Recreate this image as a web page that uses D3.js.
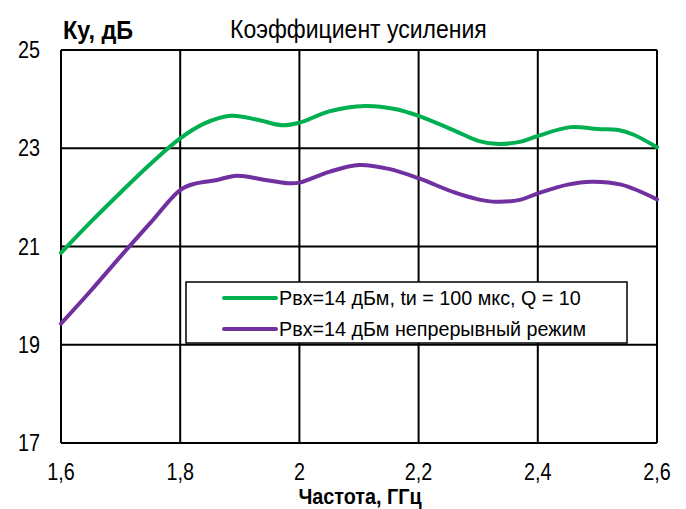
<!DOCTYPE html>
<html><head><meta charset="utf-8">
<script src="https://cdn.jsdelivr.net/npm/d3@7"></script>
<style>body{margin:0;background:#fff}svg{display:block}text{font-family:"Liberation Sans Narrow","Arial Narrow","Liberation Sans",Arial,sans-serif;fill:#000}</style>
</head><body><svg id="c" width="686" height="509"></svg>
<script>
const xTicks = [1.6, 1.8, 2.0, 2.2, 2.4, 2.6];
const xTickLabels = ["1,6", "1,8", "2", "2,2", "2,4", "2,6"];
const yTicks = [17, 19, 21, 23, 25];
const freqPulse = [1.6,1.65,1.7,1.75,1.8,1.84,1.885,1.93,1.97,2.0,2.05,2.11,2.16,2.2,2.26,2.3,2.33,2.37,2.4,2.455,2.5,2.535,2.56,2.6];
const gainPulse = [20.87,21.5,22.1,22.68,23.2,23.5,23.66,23.58,23.47,23.52,23.75,23.86,23.8,23.66,23.36,23.15,23.09,23.13,23.25,23.43,23.39,23.37,23.28,23.02];
const freqCW = [1.6,1.65,1.7,1.75,1.8,1.825,1.86,1.895,1.94,1.98,2.0,2.05,2.1,2.15,2.2,2.26,2.3,2.33,2.37,2.4,2.45,2.49,2.54,2.6];
const gainCW = [19.43,20.1,20.8,21.48,22.15,22.28,22.35,22.44,22.36,22.29,22.3,22.52,22.66,22.58,22.39,22.1,21.96,21.91,21.95,22.08,22.26,22.32,22.26,21.96];
const seriesNames = ["Рвх=14 дБм, tи = 100 мкс, Q = 10", "Рвх=14 дБм непрерывный режим"];
const colors = ["#00B050", "#7030A0"];

const svg = d3.select("#c");
const L = 61, R = 657, T = 50, B = 443;
const x = d3.scaleLinear().domain([1.6, 2.6]).range([L, R]);
const y = d3.scaleLinear().domain([17, 25]).range([B, T]);

function label(parent, px, py, txt, size, opts = {}) {
  const t = parent.append("text")
    .attr("transform", `translate(${px},${py}) scale(${opts.sx || 1},1)`)
    .attr("font-size", size)
    .attr("text-anchor", opts.anchor || "start")
    .text(txt);
  if (opts.bold) t.attr("font-weight", "bold");
  return t;
}

const g = svg.append("g");
g.selectAll(".vg").data(xTicks).enter().append("line")
  .attr("x1", d => x(d)).attr("x2", d => x(d)).attr("y1", T).attr("y2", B)
  .attr("stroke", "#000").attr("stroke-width", 2);
g.selectAll(".hg").data(yTicks).enter().append("line")
  .attr("x1", L).attr("x2", R).attr("y1", d => y(d)).attr("y2", d => y(d))
  .attr("stroke", "#000").attr("stroke-width", 2);

// tick labels
const xl = svg.append("g");
xTicks.forEach((d, i) => label(xl, x(d), B + 37, xTickLabels[i], 23, {anchor: "middle", sx: 0.86}));
const yl = svg.append("g");
yTicks.forEach(d => label(yl, 40, y(d) + 8, String(d), 23, {anchor: "end", sx: 0.86}));

// lines
const line = d3.line().x(d => x(d[0])).y(d => y(d[1])).curve(d3.curveCatmullRom.alpha(0.5));
const data = [d3.zip(freqPulse, gainPulse), d3.zip(freqCW, gainCW)];
data.forEach((d, i) => {
  svg.append("path").datum(d).attr("d", line).attr("fill", "none")
    .attr("stroke", colors[i]).attr("stroke-width", 4).attr("stroke-linecap", "round");
});

// legend
const lg = svg.append("g");
lg.append("rect").attr("x", 186).attr("y", 282).attr("width", 441).attr("height", 61)
  .attr("fill", "#fff").attr("stroke", "#000").attr("stroke-width", 1.5);
seriesNames.forEach((s, i) => {
  const yy = 298 + i * 31;
  lg.append("line").attr("x1", 224).attr("x2", 276).attr("y1", yy).attr("y2", yy)
    .attr("stroke", colors[i]).attr("stroke-width", 4).attr("stroke-linecap", "round");
  label(lg, 279, yy + 7, s, 21, {sx: 0.94});
});

// titles
label(svg, 63, 39, "Ку, дБ", 26, {bold: true, sx: 0.9});
label(svg, 230, 38, "Коэффициент усиления", 25, {sx: 0.92});
label(svg, 360, 504, "Частота, ГГц", 22, {bold: true, anchor: "middle", sx: 0.9});
</script></body></html>
